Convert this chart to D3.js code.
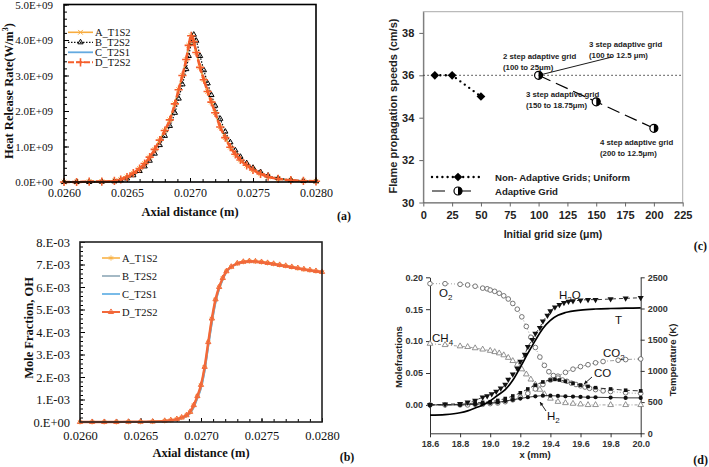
<!DOCTYPE html>
<html>
<head>
<meta charset="utf-8">
<script src="https://d3js.org/d3.v7.min.js"></script>
<style>
  body { margin: 0; background: #fff; }
  svg { display: block; }
  .serif text { font-family: "Liberation Serif", "Times New Roman", serif; }
  .sans text { font-family: "Liberation Sans", Arial, sans-serif; }
</style>
</head>
<body>
<script>
// ---------- (a) heat release rate, 1E+09 W/m3 ----------
var hrrX = [0.02600, 0.02610, 0.02620, 0.02630, 0.02640, 0.02645, 0.02650, 0.02655, 0.02660, 0.02664,
            0.02668, 0.02672, 0.02676, 0.02680, 0.02684, 0.02688, 0.02691, 0.02694, 0.02697, 0.02699,
            0.02701, 0.02703, 0.02705, 0.02708, 0.02711, 0.02714, 0.02717, 0.02720, 0.02724, 0.02728,
            0.02732, 0.02736, 0.02740, 0.02745, 0.02750, 0.02756, 0.02762, 0.02770, 0.02780, 0.02790, 0.02800];
var hrrA = [0.00, 0.00, 0.01, 0.01, 0.03, 0.07, 0.14, 0.25, 0.38, 0.52, 0.70, 0.92, 1.18, 1.45, 1.75, 2.20, 2.60, 3.00, 3.45, 3.85,
            4.12, 3.95, 3.65, 3.23, 2.88, 2.55, 2.25, 1.95, 1.55, 1.25, 0.98, 0.78, 0.62, 0.47, 0.34, 0.23, 0.15, 0.09, 0.05, 0.03, 0.02];
var hrrB = [0.00, 0.00, 0.00, 0.01, 0.02, 0.05, 0.10, 0.19, 0.31, 0.44, 0.60, 0.80, 1.04, 1.30, 1.58, 1.95, 2.35, 2.75, 3.18, 3.55,
            3.92, 4.15, 3.98, 3.55, 3.15, 2.78, 2.45, 2.15, 1.78, 1.42, 1.12, 0.89, 0.71, 0.53, 0.40, 0.28, 0.18, 0.11, 0.06, 0.03, 0.02];
var hrrC = [0.00, 0.00, 0.01, 0.01, 0.03, 0.07, 0.14, 0.24, 0.37, 0.51, 0.69, 0.91, 1.17, 1.44, 1.74, 2.18, 2.58, 2.99, 3.44, 3.84,
            4.11, 3.96, 3.66, 3.25, 2.90, 2.57, 2.27, 1.97, 1.57, 1.27, 0.99, 0.79, 0.63, 0.48, 0.35, 0.24, 0.15, 0.09, 0.05, 0.03, 0.02];
var hrrD = [0.00, 0.00, 0.01, 0.01, 0.03, 0.07, 0.14, 0.25, 0.38, 0.52, 0.70, 0.92, 1.18, 1.45, 1.75, 2.20, 2.60, 3.00, 3.45, 3.85,
            4.12, 3.95, 3.65, 3.23, 2.88, 2.55, 2.25, 1.95, 1.55, 1.25, 0.98, 0.78, 0.62, 0.47, 0.34, 0.23, 0.15, 0.09, 0.05, 0.03, 0.02];
var hrrTicksY = [0, 1, 2, 3, 4, 5];

// ---------- (b) OH mole fraction, 1E-03 ----------
var ohX = [0.02600, 0.02610, 0.02620, 0.02630, 0.02640, 0.02650, 0.02660, 0.02670, 0.02675, 0.02680,
           0.02684, 0.02688, 0.02691, 0.02694, 0.02697, 0.02700, 0.02703, 0.02706, 0.02709, 0.02712,
           0.02715, 0.02718, 0.02721, 0.02725, 0.02730, 0.02735, 0.02740, 0.02745, 0.02750, 0.02755,
           0.02760, 0.02765, 0.02770, 0.02775, 0.02780, 0.02785, 0.02790, 0.02795, 0.02800];
var ohA = [0.00, 0.00, 0.00, 0.00, 0.01, 0.01, 0.02, 0.05, 0.08, 0.13, 0.20, 0.30, 0.45, 0.75, 1.15, 1.65, 2.45, 3.55, 4.60, 5.45,
           6.00, 6.40, 6.70, 6.90, 7.05, 7.12, 7.15, 7.14, 7.11, 7.07, 7.03, 6.98, 6.94, 6.89, 6.84, 6.79, 6.75, 6.71, 6.67];
var ohB = [0.00, 0.00, 0.00, 0.00, 0.01, 0.01, 0.02, 0.04, 0.07, 0.11, 0.17, 0.26, 0.39, 0.65, 1.05, 1.50, 2.25, 3.35, 4.40, 5.30,
           5.90, 6.33, 6.65, 6.88, 7.04, 7.11, 7.14, 7.13, 7.10, 7.06, 7.02, 6.97, 6.93, 6.88, 6.83, 6.78, 6.74, 6.70, 6.66];
var ohC = [0.00, 0.00, 0.00, 0.00, 0.01, 0.01, 0.02, 0.04, 0.07, 0.11, 0.17, 0.26, 0.39, 0.65, 1.05, 1.50, 2.25, 3.35, 4.40, 5.30,
           5.90, 6.33, 6.65, 6.88, 7.04, 7.11, 7.14, 7.13, 7.10, 7.06, 7.02, 6.97, 6.93, 6.88, 6.83, 6.78, 6.74, 6.70, 6.66];
var ohD = [0.00, 0.00, 0.00, 0.00, 0.01, 0.01, 0.02, 0.05, 0.08, 0.13, 0.20, 0.30, 0.45, 0.75, 1.15, 1.65, 2.45, 3.55, 4.60, 5.45,
           6.00, 6.40, 6.70, 6.90, 7.05, 7.12, 7.15, 7.14, 7.11, 7.07, 7.03, 6.98, 6.94, 6.89, 6.84, 6.79, 6.75, 6.71, 6.67];
var ohTicksY = [0, 1, 2, 3, 4, 5, 6, 7, 8];

var axialTicks = [0.0260, 0.0265, 0.0270, 0.0275, 0.0280];
var caseNames = ["A_T1S2", "B_T2S2", "C_T2S1", "D_T2S2"];

// ---------- (c) flame speed vs initial grid size ----------
var uniformGrid = [10, 25, 50];
var uniformSpeed = [36, 36, 35];
var adaptiveGrid = [100, 150, 200];
var adaptiveSpeed = [36, 34.75, 33.5];
var gridTicks = [0, 25, 50, 75, 100, 125, 150, 175, 200, 225];
var speedTicks = [30, 32, 34, 36, 38];

// ---------- (d) species and temperature profiles, [x mm, value] ----------
var o2 = [[18.6,0.190],[18.7,0.190],[18.8,0.189],[18.85,0.188],[18.9,0.186],[18.95,0.183],[18.98,0.182],[19.0,0.180],
          [19.03,0.178],[19.06,0.175],[19.09,0.171],[19.12,0.166],[19.15,0.159],[19.18,0.150],[19.21,0.138],[19.24,0.123],
          [19.27,0.106],[19.3,0.090],[19.33,0.075],[19.36,0.062],[19.39,0.052],[19.42,0.046],[19.45,0.042],[19.48,0.039],
          [19.51,0.037],[19.54,0.034],[19.57,0.032],[19.6,0.030],[19.63,0.028],[19.66,0.026],[19.7,0.024],[19.75,0.022],
          [19.8,0.021],[19.9,0.019],[20.0,0.018]];
var h2o = [[18.6,0.000],[18.7,0.001],[18.8,0.002],[18.85,0.004],[18.9,0.007],[18.95,0.012],[18.98,0.014],[19.01,0.017],
           [19.04,0.021],[19.07,0.026],[19.1,0.032],[19.12,0.040],[19.15,0.048],[19.18,0.057],[19.2,0.068],[19.23,0.079],
           [19.25,0.091],[19.28,0.102],[19.3,0.112],[19.33,0.121],[19.35,0.131],[19.38,0.140],[19.4,0.147],[19.43,0.153],
           [19.46,0.157],[19.49,0.160],[19.52,0.162],[19.55,0.163],[19.6,0.164],[19.65,0.165],[19.7,0.165],[19.8,0.166],
           [19.9,0.167],[20.0,0.168]];
var ch4 = [[18.6,0.096],[18.7,0.094],[18.8,0.092],[18.85,0.091],[18.9,0.089],[18.95,0.087],[19.0,0.085],[19.03,0.083],
           [19.06,0.081],[19.09,0.078],[19.12,0.074],[19.15,0.069],[19.18,0.063],[19.21,0.056],[19.24,0.048],[19.27,0.040],
           [19.3,0.032],[19.33,0.024],[19.36,0.017],[19.4,0.010],[19.45,0.005],[19.5,0.003],[19.55,0.002],[19.6,0.001],
           [19.65,0.000],[19.7,0.000],[19.8,0.000],[19.9,0.000],[20.0,0.000]];
var co2 = [[18.6,0.000],[18.7,0.000],[18.8,0.000],[18.85,0.000],[18.9,0.001],[18.95,0.001],[19.0,0.002],[19.05,0.003],
           [19.1,0.005],[19.15,0.008],[19.2,0.012],[19.25,0.018],[19.3,0.025],[19.35,0.032],[19.4,0.039],[19.45,0.045],
           [19.5,0.051],[19.55,0.056],[19.6,0.060],[19.65,0.063],[19.7,0.066],[19.75,0.068],[19.85,0.070],[19.9,0.071],[20.0,0.072]];
var co = [[18.6,0.000],[18.8,0.001],[18.9,0.003],[18.95,0.004],[19.0,0.005],[19.05,0.007],[19.1,0.010],[19.15,0.014],
          [19.2,0.019],[19.25,0.025],[19.3,0.031],[19.35,0.036],[19.4,0.039],[19.43,0.040],[19.46,0.039],[19.5,0.037],
          [19.55,0.034],[19.6,0.031],[19.65,0.029],[19.7,0.027],[19.8,0.025],[19.9,0.023],[20.0,0.022]];
var h2 = [[18.6,0.000],[18.8,0.000],[18.9,0.001],[18.95,0.002],[19.0,0.003],[19.05,0.004],[19.1,0.006],[19.15,0.008],
          [19.2,0.010],[19.25,0.012],[19.3,0.0135],[19.35,0.0145],[19.4,0.0145],[19.45,0.014],[19.5,0.0135],[19.55,0.013],
          [19.6,0.0125],[19.65,0.012],[19.7,0.012],[19.8,0.0115],[19.9,0.011],[20.0,0.011]];
var temp = [[18.6,290],[18.7,300],[18.8,330],[18.85,360],[18.9,405],[18.95,455],[19.0,520],[19.05,610],[19.1,700],
            [19.15,850],[19.2,1060],[19.25,1280],[19.3,1490],[19.35,1680],[19.4,1810],[19.45,1890],[19.5,1935],
            [19.6,1975],[19.7,1992],[19.8,2000],[19.9,2005],[20.0,2010]];
var xmmTicks = [18.6, 18.8, 19.0, 19.2, 19.4, 19.6, 19.8, 20.0];
var moleTicks = [0, 0.05, 0.10, 0.15, 0.20];
var tempTicks = [0, 500, 1000, 1500, 2000, 2500];

var svg = d3.select("body").append("svg").attr("width", 709).attr("height", 467);
svg.append("rect").attr("width", 709).attr("height", 467).attr("fill", "#fff");

var plotSeries = function(g, pts, xs, ys, s) {
  g.append("path")
    .attr("d", d3.line().x(function(d) { return xs(d[0]); }).y(function(d) { return ys(d[1]); }).curve(d3.curveMonotoneX)(pts))
    .attr("fill", "none")
    .attr("stroke", s.color)
    .attr("stroke-width", s.width)
    .attr("stroke-dasharray", s.dash || null);
  if (s.symbol) {
    g.append("g").selectAll("path")
        .data(pts)
      .enter().append("path")
        .attr("transform", function(d) { return "translate(" + xs(d[0]) + "," + ys(d[1]) + ")" + (s.flip ? " rotate(180)" : ""); })
        .attr("d", d3.symbol().type(s.symbol).size(s.size))
        .attr("fill", s.fill || "none")
        .attr("stroke", s.mstroke || "none")
        .attr("stroke-width", s.mwidth || 1);
  }
};

var legendRow = function(g, x1, x2, y, label, s, fontSize) {
  g.append("line").attr("x1", x1).attr("x2", x2).attr("y1", y).attr("y2", y)
    .attr("stroke", s.color).attr("stroke-width", Math.min(s.width, 2)).attr("stroke-dasharray", s.dash || null);
  if (s.symbol) {
    g.append("path").attr("transform", "translate(" + ((x1 + x2) / 2) + "," + y + ")")
      .attr("d", d3.symbol().type(s.symbol).size(s.size))
      .attr("fill", s.fill || "none").attr("stroke", s.mstroke || "none").attr("stroke-width", s.mwidth || 1);
  }
  g.append("text").attr("x", x2 + 2).attr("y", y + 4).attr("font-size", fontSize).attr("fill", "#111").text(label);
};

var styleAxis = function(g, size, color, weight) {
  g.select(".domain").remove();
  g.selectAll("text").attr("font-size", size).attr("fill", color).attr("font-weight", weight || null);
  g.selectAll("line").attr("stroke", "#000");
};

// ================= panel (a) =================
var ga = svg.append("g").attr("class", "serif");
var ax = d3.scaleLinear().domain([0.026, 0.028]).range([64, 316]);
var ay = d3.scaleLinear().domain([0, 5]).range([182, 4.5]);

ga.append("g").attr("transform", "translate(0,182)")
  .call(d3.axisBottom(ax).tickValues(d3.range(0, 21).map(function(i) { return 0.026 + i * 0.0001; })).tickSize(-3).tickFormat(""))
  .call(function(g) { styleAxis(g, 0, "#000"); });
ga.append("g").attr("transform", "translate(0,182)")
  .call(d3.axisBottom(ax).tickValues(axialTicks).tickSize(-4).tickPadding(6).tickFormat(d3.format(".4f")))
  .call(function(g) { styleAxis(g, 12, "#111"); });
ga.append("g").attr("transform", "translate(64,0)")
  .call(d3.axisLeft(ay).tickValues(d3.range(0, 26).map(function(i) { return i * 0.2; })).tickSize(-3).tickFormat(""))
  .call(function(g) { styleAxis(g, 0, "#000"); });
ga.append("g").attr("transform", "translate(64,0)")
  .call(d3.axisLeft(ay).tickValues(hrrTicksY).tickSize(-5).tickPadding(11)
    .tickFormat(function(d) { return d === 0 ? "0.0E+00" : d.toFixed(1) + "E+09"; }))
  .call(function(g) { styleAxis(g, 11, "#111"); });

var hrrStyles = [
  {color: "#F8AC3E", width: 1.6, symbol: d3.symbolTimes, size: 16, mstroke: "#F8AC3E"},
  {color: "#111", width: 1.2, dash: "1.5,1.5", symbol: d3.symbolTriangle2, size: 20, mstroke: "#000", mwidth: 1},
  {color: "#64AAE0", width: 1.8},
  {color: "#F55F2C", width: 2.6, dash: "6,2", symbol: d3.symbolPlus, size: 24, mstroke: "#F55F2C", mwidth: 1.6}
];
var hrrSets = [hrrA, hrrB, hrrC, hrrD];
var plotA = ga.append("g");
[2, 0, 1, 3].forEach(function(i) {
  plotSeries(plotA, d3.zip(hrrX, hrrSets[i]), ax, ay, hrrStyles[i]);
});
ga.append("rect").attr("x", 64).attr("y", 4.5).attr("width", 252).attr("height", 177.5)
  .attr("fill", "none").attr("stroke", "#000").attr("stroke-width", 1.6);

var legA = ga.append("g");
caseNames.forEach(function(name, i) {
  legendRow(legA, 68, 93, 32.3 + i * 10, name, hrrStyles[i], 10.5);
});

ga.append("text").attr("x", 190).attr("y", 216).attr("text-anchor", "middle")
  .attr("font-size", 12.5).attr("font-weight", "bold").attr("fill", "#111").text("Axial distance (m)");
var tA = ga.append("text").attr("transform", "translate(13,91) rotate(-90)").attr("text-anchor", "middle")
  .attr("font-size", 12.5).attr("font-weight", "bold").attr("fill", "#111");
tA.append("tspan").text("Heat Release Rate(W/m");
tA.append("tspan").attr("font-size", 8).attr("dy", -5).text("3");
tA.append("tspan").attr("dy", 5).text(")");
ga.append("text").attr("x", 344).attr("y", 220).attr("text-anchor", "middle")
  .attr("font-size", 12).attr("font-weight", "bold").attr("fill", "#111").text("(a)");

// ================= panel (b) =================
var gb = svg.append("g").attr("class", "serif");
var bx = d3.scaleLinear().domain([0.026, 0.028]).range([80, 322]);
var by = d3.scaleLinear().domain([0, 8]).range([422, 242]);

gb.append("g").attr("transform", "translate(0,422)")
  .call(d3.axisBottom(bx).tickValues(d3.range(0, 21).map(function(i) { return 0.026 + i * 0.0001; })).tickSize(-3).tickFormat(""))
  .call(function(g) { styleAxis(g, 0, "#000"); });
gb.append("g").attr("transform", "translate(0,422)")
  .call(d3.axisBottom(bx).tickValues(axialTicks).tickSize(-4).tickPadding(9).tickFormat(d3.format(".4f")))
  .call(function(g) { styleAxis(g, 12.5, "#111"); });
gb.append("g").attr("transform", "translate(80,0)")
  .call(d3.axisLeft(by).tickValues(d3.range(0, 41).map(function(i) { return i * 0.2; })).tickSize(-3).tickFormat(""))
  .call(function(g) { styleAxis(g, 0, "#000"); });
gb.append("g").attr("transform", "translate(80,0)")
  .call(d3.axisLeft(by).tickValues(ohTicksY).tickSize(-5).tickPadding(10)
    .tickFormat(function(d) { return d === 0 ? "0.E+00" : d + ".E-03"; }))
  .call(function(g) { styleAxis(g, 12.5, "#111"); });

var ohStyles = [
  {color: "#F9B347", width: 1.6, symbol: d3.symbolAsterisk, size: 18, mstroke: "#F9B347"},
  {color: "#8DA8B6", width: 1.6},
  {color: "#6AB4E6", width: 1.8},
  {color: "#F2683A", width: 2.4, symbol: d3.symbolTriangle2, size: 20, mstroke: "#F2683A", mwidth: 1}
];
var ohSets = [ohA, ohB, ohC, ohD];
var plotB = gb.append("g");
[2, 1, 0, 3].forEach(function(i) {
  plotSeries(plotB, d3.zip(ohX, ohSets[i]), bx, by, ohStyles[i]);
});
gb.append("rect").attr("x", 80).attr("y", 242).attr("width", 242).attr("height", 180)
  .attr("fill", "none").attr("stroke", "#222").attr("stroke-width", 1.6);

var legB = gb.append("g");
caseNames.forEach(function(name, i) {
  legendRow(legB, 102, 120, 258 + i * 18, name, ohStyles[i], 10.5);
});

gb.append("text").attr("x", 201).attr("y", 457).attr("text-anchor", "middle")
  .attr("font-size", 12.5).attr("font-weight", "bold").attr("fill", "#111").text("Axial distance (m)");
gb.append("text").attr("transform", "translate(33,328) rotate(-90)").attr("text-anchor", "middle")
  .attr("font-size", 12.5).attr("font-weight", "bold").attr("fill", "#111").text("Mole Fraction, OH");
gb.append("text").attr("x", 347).attr("y", 461).attr("text-anchor", "middle")
  .attr("font-size", 12).attr("font-weight", "bold").attr("fill", "#111").text("(b)");

// ================= panel (c) =================
var gc = svg.append("g").attr("class", "sans");
var cx = d3.scaleLinear().domain([0, 225]).range([423.3, 682.7]);
var cy = d3.scaleLinear().domain([30, 39]).range([202.5, 11.7]);

gc.append("rect").attr("x", 423.3).attr("y", 11.7).attr("width", 259.4).attr("height", 190.8)
  .attr("fill", "none").attr("stroke", "#aaa").attr("stroke-width", 1);
gc.append("g").attr("transform", "translate(0,202.5)")
  .call(d3.axisBottom(cx).tickValues(gridTicks).tickSize(4).tickSizeOuter(0).tickPadding(5))
  .call(function(g) {
    g.select(".domain").attr("stroke", "#666");
    g.selectAll("line").attr("stroke", "#666");
    g.selectAll("text").attr("font-size", 11).attr("font-weight", "bold").attr("fill", "#222");
  });
gc.append("g").attr("transform", "translate(423.3,0)")
  .call(d3.axisLeft(cy).tickValues(speedTicks).tickSize(4).tickSizeOuter(0).tickPadding(5))
  .call(function(g) {
    g.select(".domain").attr("stroke", "#666");
    g.selectAll("line").attr("stroke", "#666");
    g.selectAll("text").attr("font-size", 11).attr("font-weight", "bold").attr("fill", "#222");
  });

// reference speed line
gc.append("line").attr("x1", cx(0)).attr("x2", cx(225)).attr("y1", cy(36)).attr("y2", cy(36))
  .attr("stroke", "#333").attr("stroke-width", 1).attr("stroke-dasharray", "1.5,2.5");

var uniformPts = d3.zip(uniformGrid, uniformSpeed);
var adaptivePts = d3.zip(adaptiveGrid, adaptiveSpeed);
var straight = d3.line().x(function(d) { return cx(d[0]); }).y(function(d) { return cy(d[1]); });
gc.append("path").attr("d", straight(uniformPts)).attr("fill", "none")
  .attr("stroke", "#000").attr("stroke-width", 2.4).attr("stroke-linecap", "round").attr("stroke-dasharray", "0,5.5");
gc.append("path").attr("d", straight(adaptivePts)).attr("fill", "none")
  .attr("stroke", "#000").attr("stroke-width", 1.2).attr("stroke-dasharray", "13,6");

var diamond = d3.symbol().type(d3.symbolSquare).size(38);
gc.selectAll(".dia").data(uniformPts).enter().append("path")
  .attr("transform", function(d) { return "translate(" + cx(d[0]) + "," + cy(d[1]) + ") rotate(45)"; })
  .attr("d", diamond).attr("fill", "#000");

var halfArc = d3.arc().innerRadius(0).outerRadius(4).startAngle(0).endAngle(Math.PI);
var drawHalf = function(g, x, y) {
  g.append("circle").attr("cx", x).attr("cy", y).attr("r", 4).attr("fill", "#fff").attr("stroke", "#000").attr("stroke-width", 1.2);
  g.append("path").attr("transform", "translate(" + x + "," + y + ")").attr("d", halfArc).attr("fill", "#000");
};
adaptivePts.forEach(function(d) { drawHalf(gc, cx(d[0]), cy(d[1])); });

// annotation leader for the 3 step (100 to 12.5) case
gc.append("line").attr("x1", cx(100)).attr("y1", cy(36)).attr("x2", 612).attr("y2", 57)
  .attr("stroke", "#000").attr("stroke-width", 0.9);

var notes = [
  {x: 503, y: 59, t: "2 step adaptive grid"}, {x: 503, y: 70, t: "(100 to 25\u03bcm)"},
  {x: 589, y: 47, t: "3 step adaptive grid"}, {x: 589, y: 57.5, t: "(100 to 12.5 \u03bcm)"},
  {x: 526, y: 97, t: "3 step adaptive grid"}, {x: 526, y: 108, t: "(150 to 18.75\u03bcm)"},
  {x: 600, y: 145, t: "4 step adaptive grid"}, {x: 600, y: 156, t: "(200 to 12.5\u03bcm)"}
];
gc.selectAll(".note").data(notes).enter().append("text")
  .attr("x", function(d) { return d.x; }).attr("y", function(d) { return d.y; })
  .attr("font-size", 7.8).attr("font-weight", "bold").attr("fill", "#222")
  .text(function(d) { return d.t; });

// legend (c)
gc.append("line").attr("x1", 432).attr("x2", 481).attr("y1", 177).attr("y2", 177)
  .attr("stroke", "#000").attr("stroke-width", 2.4).attr("stroke-linecap", "round").attr("stroke-dasharray", "0,5.2");
gc.append("path").attr("transform", "translate(458,177) rotate(45)").attr("d", diamond).attr("fill", "#000");
gc.append("line").attr("x1", 432).attr("x2", 479).attr("y1", 191).attr("y2", 191)
  .attr("stroke", "#000").attr("stroke-width", 1.2).attr("stroke-dasharray", "13,13");
drawHalf(gc, 458, 191);
gc.append("text").attr("x", 495).attr("y", 180.5).attr("font-size", 9.6).attr("font-weight", "bold").attr("fill", "#222")
  .text("Non- Adaptive Grids; Uniform");
gc.append("text").attr("x", 495).attr("y", 194.5).attr("font-size", 9.6).attr("font-weight", "bold").attr("fill", "#222")
  .text("Adaptive Grid");

gc.append("text").attr("x", 553).attr("y", 238).attr("text-anchor", "middle")
  .attr("font-size", 10.5).attr("font-weight", "bold").attr("fill", "#222").text("Initial grid size (\u03bcm)");
gc.append("text").attr("transform", "translate(397,106) rotate(-90)").attr("text-anchor", "middle")
  .attr("font-size", 11).attr("font-weight", "bold").attr("fill", "#222").text("Flame propagation speeds (cm/s)");
svg.append("g").attr("class", "serif").append("text").attr("x", 707).attr("y", 250).attr("text-anchor", "end")
  .attr("font-size", 12).attr("font-weight", "bold").attr("fill", "#111").text("(c)");

// ================= panel (d) =================
var gd = svg.append("g").attr("class", "sans");
var dx = d3.scaleLinear().domain([18.6, 20.0]).range([430, 640.7]);
var dy = d3.scaleLinear().domain([-0.0445, 0.20]).range([433.3, 277.3]);
var dt = d3.scaleLinear().domain([0, 2500]).range([433.3, 277.3]);

var dAxis = function(g) {
  g.select(".domain").attr("stroke", "#333");
  g.selectAll("line").attr("stroke", "#333");
  g.selectAll("text").attr("font-size", 9).attr("font-weight", "bold").attr("fill", "#333");
};
gd.append("g").attr("transform", "translate(0,433.3)")
  .call(d3.axisBottom(dx).tickValues(xmmTicks).tickSize(4).tickSizeOuter(0).tickPadding(3).tickFormat(d3.format(".1f")))
  .call(dAxis);
gd.append("g").attr("transform", "translate(430,0)")
  .call(d3.axisLeft(dy).tickValues(moleTicks).tickSize(4).tickSizeOuter(0).tickPadding(3).tickFormat(d3.format(".2f")))
  .call(dAxis);
gd.append("g").attr("transform", "translate(640.7,0)")
  .call(d3.axisRight(dt).tickValues(tempTicks).tickSize(4).tickSizeOuter(0).tickPadding(3).tickFormat(d3.format("d")))
  .call(dAxis);

var dPlot = gd.append("g");
plotSeries(dPlot, ch4, dx, dy, {color: "#888", width: 0.8, dash: "3,2,1,2", symbol: d3.symbolTriangle, size: 14, fill: "#fff", mstroke: "#777", mwidth: 0.8});
plotSeries(dPlot, co2, dx, dy, {color: "#888", width: 0.8, dash: "4,2,1,2", symbol: d3.symbolCircle, size: 17, fill: "#fff", mstroke: "#666", mwidth: 0.9});
plotSeries(dPlot, o2, dx, dy, {color: "#888", width: 0.8, dash: "1,2", symbol: d3.symbolCircle, size: 17, fill: "#fff", mstroke: "#666", mwidth: 0.9});
plotSeries(dPlot, h2, dx, dy, {color: "#222", width: 0.9, symbol: d3.symbolCircle, size: 14, fill: "#111"});
plotSeries(dPlot, co, dx, dy, {color: "#222", width: 0.9, dash: "5,3", symbol: d3.symbolSquare, size: 13, fill: "#111"});
plotSeries(dPlot, h2o, dx, dy, {color: "#222", width: 0.9, dash: "4,3", symbol: d3.symbolTriangle, size: 16, fill: "#111", flip: true});
plotSeries(dPlot, temp, dx, dt, {color: "#000", width: 1.7});

var species = function(x, y, main, sub, tail) {
  var t = gd.append("text").attr("x", x).attr("y", y).attr("font-size", 11.5).attr("fill", "#111");
  t.append("tspan").text(main);
  if (sub) t.append("tspan").attr("font-size", 8).attr("dy", 3).text(sub);
  if (tail) t.append("tspan").attr("dy", -3).text(tail);
};
species(439, 297, "O", "2");
species(559, 299, "H", "2", "O");
species(615, 324, "T");
species(432, 342, "CH", "4");
species(603, 357, "CO", "2");
species(594, 377, "CO");
species(547, 420, "H", "2");

var arrow = function(x1, y1, x2, y2) {
  var a = Math.atan2(y2 - y1, x2 - x1), h = 4;
  gd.append("line").attr("x1", x1).attr("y1", y1).attr("x2", x2).attr("y2", y2).attr("stroke", "#111").attr("stroke-width", 0.9);
  gd.append("path").attr("fill", "#111")
    .attr("d", "M" + x2 + "," + y2 + "L" + (x2 - h * Math.cos(a - 0.45)) + "," + (y2 - h * Math.sin(a - 0.45)) +
               "L" + (x2 - h * Math.cos(a + 0.45)) + "," + (y2 - h * Math.sin(a + 0.45)) + "Z");
};
arrow(592, 377, 584, 384);
arrow(546, 411, 540, 402);

gd.append("text").attr("x", 535).attr("y", 458).attr("text-anchor", "middle")
  .attr("font-size", 9.5).attr("font-weight", "bold").attr("fill", "#222").text("x (mm)");
gd.append("text").attr("transform", "translate(402,357) rotate(-90)").attr("text-anchor", "middle")
  .attr("font-size", 9.5).attr("font-weight", "bold").attr("fill", "#222").text("Molefractions");
gd.append("text").attr("transform", "translate(676,360) rotate(-90)").attr("text-anchor", "middle")
  .attr("font-size", 9.5).attr("font-weight", "bold").attr("fill", "#222").text("Temperature (K)");
svg.append("g").attr("class", "serif").append("text").attr("x", 708).attr("y", 464).attr("text-anchor", "end")
  .attr("font-size", 12).attr("font-weight", "bold").attr("fill", "#111").text("(d)");
</script>
</body>
</html>
